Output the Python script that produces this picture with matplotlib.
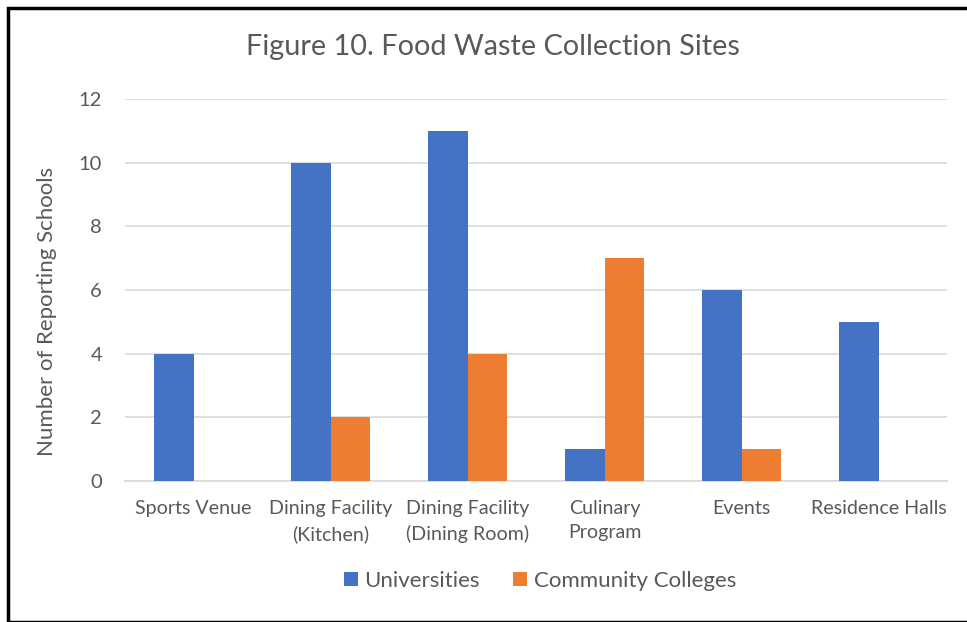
import matplotlib
matplotlib.use("Agg")
import matplotlib.pyplot as plt
import numpy as np
from matplotlib.patches import Rectangle

categories = ["Sports Venue", "Dining Facility\n(Kitchen)", "Dining Facility\n(Dining Room)",
              "Culinary\nProgram", "Events", "Residence Halls"]
universities = [4, 10, 11, 1, 6, 5]
community_colleges = [0, 2, 4, 7, 1, 0]
yticks = [0, 2, 4, 6, 8, 10, 12]

plt.rcParams['font.family'] = ['Lato', 'DejaVu Sans']
txt = '#595959'

W, H = 967, 622
fig = plt.figure(figsize=(W/100, H/100), dpi=100)
ax = fig.add_axes([125/W, 1-481/H, (947-125)/W, (481-99)/H])

x = np.arange(len(categories))
bw = 0.285
ax.bar(x - bw/2, universities, bw, color='#4472C4', label='Universities', zorder=3)
ax.bar(x + bw/2, community_colleges, bw, color='#ED7D31', label='Community Colleges', zorder=3)

ax.set_xlim(-0.5, len(categories) - 0.5)
ax.set_ylim(0, 12)
ax.set_yticks(yticks)
ax.set_yticklabels([str(v) for v in yticks], color=txt, fontsize=14.5)
ax.set_xticks(x)
ax.set_xticklabels(categories, color=txt, fontsize=14.1, linespacing=1.5)
ax.tick_params(axis='x', length=0, pad=14)
ax.tick_params(axis='y', length=0, pad=16.5)
ax.grid(axis='y', color='#D9D9D9', linewidth=1.2, zorder=0)
for s in ['top', 'right', 'left']:
    ax.spines[s].set_visible(False)
ax.spines['bottom'].set_color('#D9D9D9')
ax.spines['bottom'].set_linewidth(1.2)

fig.text(47/W, 1-311/H, 'Number of Reporting Schools', color=txt, fontsize=16,
         rotation=90, ha='center', va='center')
fig.text(493/W, 1-47/H, 'Figure 10. Food Waste Collection Sites', ha='center', va='center',
         color=txt, fontsize=20.8)

leg = fig.legend(loc='center', bbox_to_anchor=(540/W, 1-581/H), ncol=2, frameon=False,
                 fontsize=16, handlelength=0.63, handleheight=0.63, columnspacing=1.5,
                 handletextpad=0.3)
for t in leg.get_texts():
    t.set_color(txt)

fig.patches.append(Rectangle((8/W, 0), 1.5, 1-8/H, transform=fig.transFigure,
                             fill=False, edgecolor='black', linewidth=2.5))

fig.savefig('out.png', dpi=100)
